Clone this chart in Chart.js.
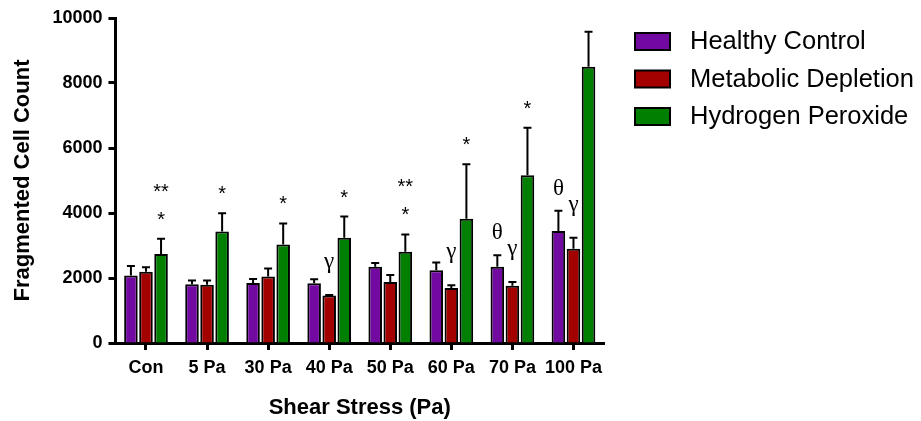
<!DOCTYPE html>
<html>
<head>
<meta charset="utf-8">
<script src="https://cdn.jsdelivr.net/npm/chart.js@4"></script>
<style>
  html, body { margin: 0; padding: 0; background: #fff; }
  #wrap { width: 921px; height: 421px; }
</style>
</head>
<body>
<div id="wrap"><canvas id="myChart" width="921" height="421"></canvas></div>
<script>
// values
const categories = ['Con', '5 Pa', '30 Pa', '40 Pa', '50 Pa', '60 Pa', '70 Pa', '100 Pa'];
const yTicks = [0, 2000, 4000, 6000, 8000, 10000];

const healthy = [2080, 1810, 1850, 1840, 2350, 2240, 2350, 3450];
const healthyErr = [290, 110, 120, 120, 110, 240, 350, 620];
const depletion = [2190, 1790, 2050, 1460, 1880, 1690, 1760, 2900];
const depletionErr = [140, 130, 240, 20, 210, 90, 120, 340];
const peroxide = [2740, 3430, 3030, 3240, 2810, 3820, 5160, 8500];
const peroxideErr = [470, 560, 650, 650, 530, 1680, 1460, 1080];

// significance marks, listed bottom to top
const healthyMarks = [[], [], [], [], [], [], ['θ'], ['θ']];
const depletionMarks = [[], [], [], ['γ'], [], ['γ'], ['γ'], ['γ']];
const peroxideMarks = [['*', '**'], ['*'], ['*'], ['*'], ['*', '**'], ['*'], ['*'], []];

const sans = "'Liberation Sans', Arial, sans-serif";
const serif = "'Liberation Serif', 'Times New Roman', serif";

// error bars + marks above each bar
const errorBars = {
    id: 'errorBars',
    afterDatasetsDraw(chart) {
        const ctx = chart.ctx;
        const y = chart.scales.y;
        chart.data.datasets.forEach((ds, i) => {
            const meta = chart.getDatasetMeta(i);
            meta.data.forEach((bar, j) => {
                let top = y.getPixelForValue(ds.data[j] + ds.errors[j]);
                ctx.save();
                ctx.strokeStyle = '#000';
                ctx.lineWidth = 2;
                ctx.beginPath();
                ctx.moveTo(bar.x, bar.y);
                ctx.lineTo(bar.x, top);
                ctx.moveTo(bar.x - 4, top);
                ctx.lineTo(bar.x + 4, top);
                ctx.stroke();

                ctx.fillStyle = '#000';
                ctx.textAlign = 'center';
                ctx.textBaseline = 'alphabetic';
                ds.marks[j].forEach((m, k) => {
                    if (m === '*' || m === '**') {
                        ctx.font = '20px ' + sans;
                        ctx.fillText(m, bar.x, top - 13 - k * 28);
                    } else if (m === 'θ') {
                        ctx.font = '23px ' + serif;
                        ctx.fillText(m, bar.x, top - 16);
                    } else {
                        ctx.font = '23px ' + serif;
                        ctx.fillText(m, bar.x, top - 27);
                    }
                });
                ctx.restore();
            });
        });
    }
};

// legend on the right, swatches with black outline
const sideLegend = {
    id: 'sideLegend',
    afterDraw(chart) {
        const ctx = chart.ctx;
        ctx.save();
        chart.data.datasets.forEach((ds, i) => {
            let top = 33 + i * 37.5;
            ctx.fillStyle = ds.backgroundColor;
            ctx.fillRect(635, top, 35, 17);
            ctx.strokeStyle = '#000';
            ctx.lineWidth = 2;
            ctx.strokeRect(635, top, 35, 17);
            ctx.fillStyle = '#000';
            ctx.font = '25.5px ' + sans;
            ctx.textAlign = 'left';
            ctx.textBaseline = 'middle';
            ctx.fillText(ds.label, 690, top + 9);
        });
        ctx.restore();
    }
};

function make_dataset(label, data, errors, marks, color) {
    return {
        label: label,
        data: data,
        errors: errors,
        marks: marks,
        backgroundColor: color,
        borderColor: '#000',
        borderWidth: 2,
        categoryPercentage: 0.74,
        barPercentage: 0.9
    };
}

const ctx = document.getElementById('myChart');

new Chart(ctx, {
    type: 'bar',
    data: {
        labels: categories,
        datasets: [
            make_dataset('Healthy Control', healthy, healthyErr, healthyMarks, '#7209A0'),
            make_dataset('Metabolic Depletion', depletion, depletionErr, depletionMarks, '#A30000'),
            make_dataset('Hydrogen Peroxide', peroxide, peroxideErr, peroxideMarks, '#007F00')
        ]
    },
    options: {
        responsive: false,
        animation: false,
        devicePixelRatio: 1,
        layout: {
            padding: { left: 6, right: 317, top: 18, bottom: 0 }
        },
        plugins: {
            legend: { display: false },
            tooltip: { enabled: false }
        },
        scales: {
            x: {
                grid: {
                    display: true,
                    offset: false,
                    drawOnChartArea: false,
                    drawTicks: true,
                    tickLength: 7,
                    tickColor: '#000',
                    tickWidth: 3
                },
                border: { color: '#000', width: 3 },
                ticks: {
                    color: '#000',
                    padding: 7,
                    autoSkip: false,
                    maxRotation: 0,
                    minRotation: 0,
                    font: { family: sans, size: 18, weight: 'bold' }
                },
                title: {
                    display: true,
                    text: 'Shear Stress (Pa)',
                    color: '#000',
                    padding: { top: 9, bottom: 0 },
                    font: { family: sans, size: 22, weight: 'bold' }
                }
            },
            y: {
                min: 0,
                max: 10000,
                afterBuildTicks: (axis) => {
                    axis.ticks = yTicks.map((v) => ({ value: v }));
                },
                grid: {
                    display: true,
                    drawOnChartArea: false,
                    drawTicks: true,
                    tickLength: 7,
                    tickColor: '#000',
                    tickWidth: 3
                },
                border: { color: '#000', width: 3 },
                ticks: {
                    color: '#000',
                    padding: 6,
                    callback: (v) => String(v),
                    font: { family: sans, size: 18, weight: 'bold' }
                },
                title: {
                    display: true,
                    text: 'Fragmented Cell Count',
                    color: '#000',
                    padding: { top: 4, bottom: 10 },
                    font: { family: sans, size: 22, weight: 'bold' }
                }
            }
        }
    },
    plugins: [errorBars, sideLegend]
});
</script>
</body>
</html>
